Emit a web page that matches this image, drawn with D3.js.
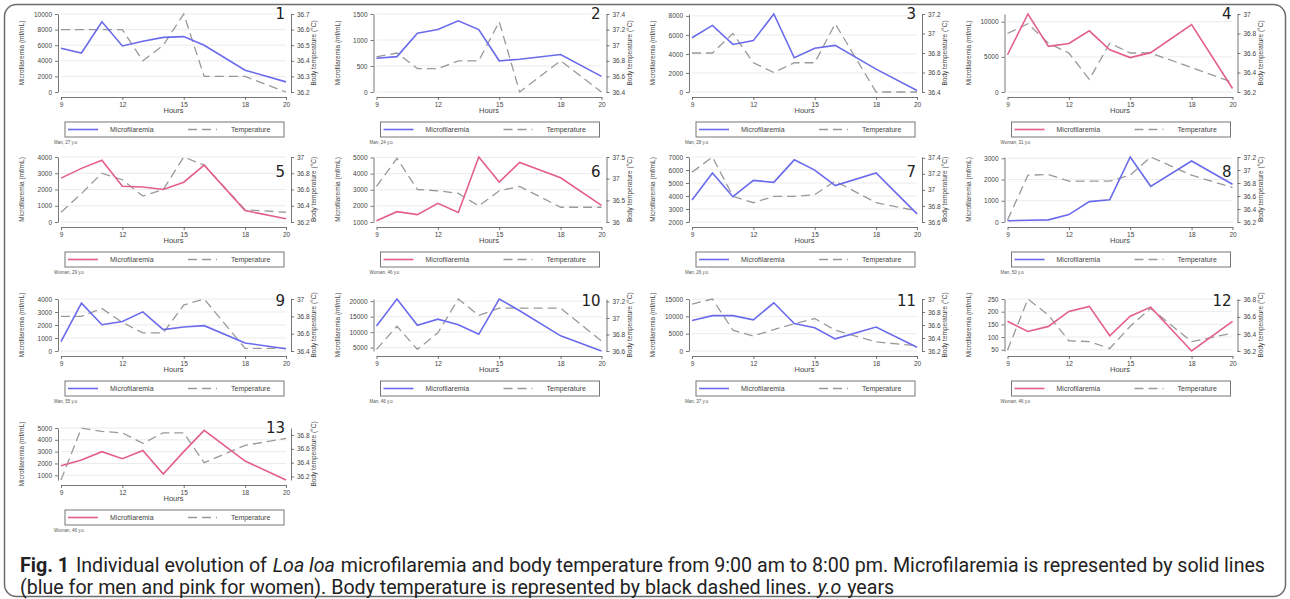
<!DOCTYPE html>
<html>
<head>
<meta charset="utf-8">
<script src="https://cdn.jsdelivr.net/npm/d3@7"></script>
<style>
  body { margin: 0; background: #fff; }
  svg { display: block; }
</style>
</head>
<body>
<div id="chart"></div>
<script>
// sampling hours (x values)
const hours = [9, 10, 11, 12, 13, 14, 15, 16, 18, 20];
const hourTicks = [9, 12, 15, 18, 20];

const subjects = [
  "Man, 27 y.o", "Man, 24 y.o", "Man, 28 y.o", "Woman, 31 y.o",
  "Woman, 29 y.o", "Woman, 46 y.o", "Man, 26 y.o", "Man, 50 y.o",
  "Man, 55 y.o", "Man, 46 y.o", "Man, 37 y.o", "Woman, 46 y.o",
  "Woman, 46 y.o"
];
const sexes = ["M", "M", "M", "W", "W", "W", "M", "M", "M", "M", "M", "W", "W"];

// microfilaremia (mf/mL), one row per subject
const microfilaremia = [
  [5600, 5000, 9000, 5900, 6500, 7000, 7100, 6000, 2800, 1300],
  [650, 680, 1130, 1200, 1370, 1200, 600, 630, 720, 300],
  [5700, 7000, 5000, 5400, 8200, 3600, 4600, 4900, 2400, 150],
  [5300, 11100, 6500, 6900, 8700, 6000, 4900, 5600, 9600, 500],
  [2700, 3300, 3800, 2200, 2150, 2000, 2450, 3500, 700, 200],
  [1080, 1640, 1460, 2160, 1590, 5030, 3480, 4690, 3740, 2030],
  [3700, 5770, 3950, 5200, 5050, 6780, 5990, 4800, 5770, 2630],
  [60, 80, 100, 350, 960, 1050, 3060, 1680, 2870, 1780],
  [720, 3680, 2020, 2270, 3010, 1650, 1850, 1950, 620, 170],
  [12000, 20700, 12200, 14200, 12400, 9300, 20700, 16900, 8800, 3900],
  [8800, 10200, 10200, 9000, 13900, 7900, 6700, 3500, 6900, 1100],
  [162, 122, 142, 201, 221, 105, 182, 218, 45, 162],
  [1800, 2300, 3000, 2400, 3100, 1100, 3000, 4800, 2200, 600]
];

// body temperature (°C), one row per subject
const temperature = [
  [36.6, 36.6, 36.6, 36.6, 36.4, 36.5, 36.7, 36.3, 36.3, 36.2],
  [36.85, 36.9, 36.7, 36.7, 36.8, 36.8, 37.3, 36.4, 36.8, 36.4],
  [36.8, 36.8, 37.0, 36.7, 36.6, 36.7, 36.7, 37.1, 36.4, 36.4],
  [36.8, 36.9, 36.7, 36.6, 36.33, 36.7, 36.6, 36.6, 36.45, 36.3],
  [36.32, 36.55, 36.8, 36.72, 36.52, 36.6, 37.0, 36.9, 36.35, 36.32],
  [36.82, 37.47, 36.75, 36.72, 36.66, 36.37, 36.72, 36.82, 36.34, 36.34],
  [37.22, 37.41, 36.92, 36.84, 36.92, 36.92, 36.94, 37.11, 36.84, 36.74],
  [36.23, 36.92, 36.93, 36.83, 36.83, 36.83, 36.92, 37.2, 36.92, 36.73],
  [36.8, 36.8, 36.89, 36.73, 36.61, 36.61, 36.93, 37.0, 36.43, 36.43],
  [36.62, 36.9, 36.62, 36.82, 37.23, 37.03, 37.12, 37.12, 37.12, 36.72],
  [36.92, 37.0, 36.52, 36.43, 36.53, 36.62, 36.7, 36.52, 36.34, 36.28],
  [36.21, 36.81, 36.62, 36.32, 36.31, 36.23, 36.49, 36.7, 36.31, 36.41],
  [36.15, 36.9, 36.85, 36.83, 36.68, 36.83, 36.83, 36.4, 36.65, 36.75]
];

const mfTicks = [
  [0, 2000, 4000, 6000, 8000, 10000],
  [0, 500, 1000, 1500],
  [0, 2000, 4000, 6000, 8000],
  [0, 5000, 10000],
  [0, 1000, 2000, 3000, 4000],
  [1000, 2000, 3000, 4000, 5000],
  [2000, 3000, 4000, 5000, 6000, 7000],
  [0, 1000, 2000, 3000],
  [0, 1000, 2000, 3000, 4000],
  [5000, 10000, 15000, 20000],
  [0, 5000, 10000, 15000],
  [50, 100, 150, 200, 250],
  [1000, 2000, 3000, 4000, 5000]
];

const tempTicks = [
  [36.2, 36.3, 36.4, 36.5, 36.6, 36.7],
  [36.4, 36.6, 36.8, 37, 37.2, 37.4],
  [36.4, 36.6, 36.8, 37, 37.2],
  [36.2, 36.4, 36.6, 36.8, 37],
  [36.2, 36.4, 36.6, 36.8, 37],
  [36, 36.5, 37, 37.5],
  [36.6, 36.8, 37, 37.2, 37.4],
  [36.2, 36.4, 36.6, 36.8, 37, 37.2],
  [36.4, 36.6, 36.8, 37],
  [36.6, 36.8, 37, 37.2],
  [36.2, 36.4, 36.6, 36.8, 37],
  [36.2, 36.4, 36.6, 36.8],
  [36.2, 36.4, 36.6, 36.8]
];

const sexColor = { M: "#6a6aec", W: "#e45f88" };

const W = 1290, H = 599;
const svg = d3.select("#chart").append("svg")
  .attr("width", W)
  .attr("height", H)
  .style("font-family", "'Liberation Sans', Arial, sans-serif");

// outer frame
svg.append("rect")
  .attr("x", 4.5).attr("y", 4.5)
  .attr("width", W - 9).attr("height", H - 7)
  .attr("rx", 12)
  .attr("fill", "#fff")
  .attr("stroke", "#6b6b6b")
  .attr("stroke-width", 1.5);

// panel grid layout (the first rows of the figure are taller)
const colW = 315.5, plotW = 225;
const rowTop = [14, 157, 299, 428];
const rowBottom = [92, 222, 351, 480];
const numberY = [19, 177, 306, 433];
const axisGray = "#555";

subjects.forEach((subject, i) => {
  const col = i % 4, row = Math.floor(i / 4);
  const left = 61 + col * colW, top = rowTop[row];
  const plotH = rowBottom[row] - rowTop[row];
  const g = svg.append("g").attr("transform", `translate(${left},${top})`);

  const x = d3.scaleLinear().domain([9, 20]).range([0, plotW]);
  const y = d3.scaleLinear()
    .domain(d3.extent(mfTicks[i].concat(microfilaremia[i])))
    .range([plotH, 0]);
  const yT = d3.scaleLinear()
    .domain(d3.extent(tempTicks[i].concat(temperature[i])))
    .range([plotH, 0]);

  // light grid lines
  g.selectAll(".grid")
    .data(mfTicks[i])
    .join("line")
    .attr("x1", 0).attr("x2", plotW)
    .attr("y1", d => y(d)).attr("y2", d => y(d))
    .attr("stroke", "#e6e6e6")
    .attr("stroke-width", 0.8);

  // axes
  const styleAxis = sel => {
    sel.selectAll("path, line").attr("stroke", axisGray).attr("stroke-width", 0.8);
    sel.selectAll("text").attr("fill", "#444").attr("font-size", 6.5).attr("font-family", null);
  };

  g.append("g")
    .attr("transform", "translate(-3,0)")
    .call(d3.axisLeft(y).tickValues(mfTicks[i]).tickSize(3).tickSizeOuter(0).tickPadding(3).tickFormat(d => d))
    .call(styleAxis);

  g.append("g")
    .attr("transform", `translate(${plotW + 5},0)`)
    .call(d3.axisRight(yT).tickValues(tempTicks[i]).tickSize(3).tickSizeOuter(0).tickPadding(3).tickFormat(d => d))
    .call(styleAxis);

  g.append("g")
    .attr("transform", `translate(0,${plotH + 5})`)
    .call(d3.axisBottom(x).tickValues(hourTicks).tickSize(3).tickSizeOuter(0).tickPadding(2))
    .call(styleAxis);

  // axis titles
  g.append("text")
    .attr("transform", `translate(-37,${plotH / 2}) rotate(-90)`)
    .attr("text-anchor", "middle")
    .attr("font-size", 6.5)
    .attr("fill", "#444")
    .text("Microfilaremia (mf/mL)");

  g.append("text")
    .attr("transform", `translate(${plotW + 30},${plotH / 2}) rotate(-90)`)
    .attr("text-anchor", "middle")
    .attr("font-size", 6.5)
    .attr("fill", "#444")
    .text("Body temperature (°C)");

  g.append("text")
    .attr("x", plotW / 2).attr("y", plotH + 21)
    .attr("text-anchor", "middle")
    .attr("font-size", 7.5)
    .attr("fill", "#444")
    .text("Hours");

  // series
  const tempLine = d3.line().x((d, j) => x(hours[j])).y(d => yT(d));
  const mfLine = d3.line().x((d, j) => x(hours[j])).y(d => y(d));

  g.append("path")
    .datum(temperature[i])
    .attr("d", tempLine)
    .attr("fill", "none")
    .attr("stroke", "#999")
    .attr("stroke-width", 1.3)
    .attr("stroke-dasharray", "9,5");

  g.append("path")
    .datum(microfilaremia[i])
    .attr("d", mfLine)
    .attr("fill", "none")
    .attr("stroke", sexColor[sexes[i]])
    .attr("stroke-width", 1.6);

  // panel number
  svg.append("text")
    .attr("x", left + plotW - 1).attr("y", numberY[row])
    .attr("text-anchor", "end")
    .attr("font-size", 15)
    .attr("font-family", "'DejaVu Sans', sans-serif")
    .attr("fill", "#222")
    .text(i + 1);

  // legend
  const lg = g.append("g").attr("transform", `translate(4,${plotH + 30})`);
  lg.append("rect")
    .attr("width", plotW - 6).attr("height", 15)
    .attr("fill", "#fff")
    .attr("stroke", "#777")
    .attr("stroke-width", 1);
  lg.append("line")
    .attr("x1", 3).attr("x2", 33).attr("y1", 7.5).attr("y2", 7.5)
    .attr("stroke", sexColor[sexes[i]]).attr("stroke-width", 1.6);
  lg.append("text")
    .attr("x", 45).attr("y", 10)
    .attr("font-size", 7).attr("fill", "#444")
    .text("Microfilaremia");
  lg.append("line")
    .attr("x1", 123).attr("x2", 152).attr("y1", 7.5).attr("y2", 7.5)
    .attr("stroke", "#999").attr("stroke-width", 1.3)
    .attr("stroke-dasharray", "9,5");
  lg.append("text")
    .attr("x", 166).attr("y", 10)
    .attr("font-size", 7).attr("fill", "#444")
    .text("Temperature");

  // subject note
  g.append("text")
    .attr("x", -7).attr("y", plotH + 52)
    .attr("font-size", 4.5)
    .attr("fill", "#555")
    .text(subject);
});

// caption
const cap = svg.append("g")
  .style("font-family", "Roboto, 'Liberation Sans', sans-serif")
  .attr("fill", "#222");

const line1 = cap.append("text").attr("x", 20).attr("y", 572).attr("font-size", 15);
line1.append("tspan").attr("font-weight", "bold").text("Fig. 1 ");
line1.append("tspan").attr("dx", 2).text(" Individual evolution of ");
line1.append("tspan").attr("dx", 1).attr("font-style", "italic").text("Loa loa");
line1.append("tspan").attr("dx", 1).text(" microfilaremia and body temperature from 9:00 am to 8:00 pm. Microfilaremia is represented by solid lines");

const line2 = cap.append("text").attr("x", 20).attr("y", 594).attr("font-size", 15);
line2.append("tspan").text("(blue for men and pink for women). Body temperature is represented by black dashed lines. ");
line2.append("tspan").attr("dx", 1).attr("font-style", "italic").text("y.o");
line2.append("tspan").attr("dx", 1).text(" years");

// size the caption so the first line fills the frame width
const w1 = line1.node().getComputedTextLength();
const fs = 15 * 1242 / w1;
line1.attr("font-size", fs);
line2.attr("font-size", fs);
</script>
</body>
</html>
